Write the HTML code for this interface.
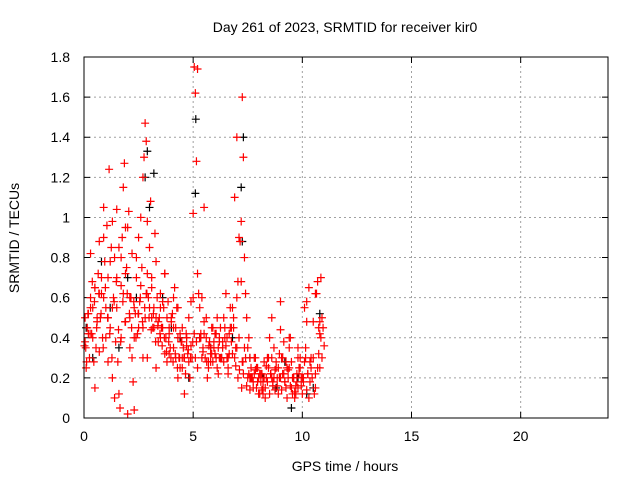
<!DOCTYPE html>
<html><head><meta charset="utf-8"><style>
body{margin:0;background:#fff}
svg text{font-family:"Liberation Sans",sans-serif;font-size:14px;fill:#000}
</style></head><body>
<svg id="chart" width="640" height="480" xmlns="http://www.w3.org/2000/svg">
<text x="345" y="32" text-anchor="middle">Day 261 of 2023, SRMTID for receiver kir0</text>
<text x="345" y="471" text-anchor="middle">GPS time / hours</text>
<text x="0" y="0" text-anchor="middle" transform="translate(19,238) rotate(-90)">SRMTID / TECUs</text>
<g id="grid"></g><g id="ticks"></g><g id="black"></g><g id="red"></g>
<rect x="84" y="57" width="524" height="361" fill="none" stroke="#000" stroke-width="1"/>
</svg>
<script>
const xTicks=[0,5,10,15,20];
const yTicks=[0,0.2,0.4,0.6,0.8,1,1.2,1.4,1.6,1.8];
const yTickLabels=["0","0.2","0.4","0.6","0.8","1","1.2","1.4","1.6","1.8"];
const redT=[0.05,0.1,0.15,0.2,0.25,0.3,0.35,0.4,0.45,0.5,0.55,0.6,0.65,0.7,0.75,0.8,0.85,0.9,0.95,1.0,1.05,1.1,1.15,1.2,1.25,1.3,1.35,1.4,1.45,1.5,1.55,1.6,1.65,1.7,1.75,1.8,1.85,1.9,1.95,2.0,2.05,2.1,2.15,2.2,2.25,2.3,2.35,2.4,2.45,2.5,2.55,2.6,2.65,2.7,2.75,2.8,2.85,2.9,2.95,3.0,3.05,3.1,3.15,3.2,3.25,3.3,3.35,3.4,3.45,3.5,3.55,3.6,3.65,3.7,3.75,3.8,3.85,3.9,3.95,4.0,4.05,4.1,4.15,4.2,4.25,4.3,4.35,4.4,4.45,4.5,4.55,4.6,4.65,4.7,4.75,4.8,4.85,4.9,4.95,5.0,5.05,5.1,5.15,5.2,5.25,5.3,5.35,5.4,5.45,5.5,5.55,5.6,5.65,5.7,5.75,5.8,5.85,5.9,5.95,6.0,6.05,6.1,6.15,6.2,6.25,6.3,6.35,6.4,6.45,6.5,6.55,6.6,6.65,6.7,6.75,6.8,6.85,6.9,6.95,7.0,7.05,7.1,7.15,7.2,7.25,7.3,7.35,7.4,7.45,7.5,7.55,7.6,7.65,7.7,7.75,7.8,7.85,7.9,7.95,8.0,8.05,8.1,8.15,8.2,8.25,8.3,8.35,8.4,8.45,8.5,8.55,8.6,8.65,8.7,8.75,8.8,8.85,8.9,8.95,9.0,9.05,9.1,9.15,9.2,9.25,9.3,9.35,9.4,9.45,9.5,9.55,9.6,9.65,9.7,9.75,9.8,9.85,9.9,9.95,10.0,10.05,10.1,10.15,10.2,10.25,10.3,10.35,10.4,10.45,10.5,10.55,10.6,10.65,10.7,10.75,10.8,10.85,10.9,10.95,11.0,
0.05,0.12,0.2,0.3,0.4,0.5,0.6,0.7,0.8,0.9,1.0,1.1,1.2,1.3,1.4,1.5,1.6,1.7,1.8,1.9,2.0,2.1,2.2,2.3,2.4,2.5,2.6,2.7,2.8,2.85,2.9,3.0,3.1,3.2,3.3,3.4,3.5,3.6,3.7,3.8,3.9,4.0,4.1,4.2,4.3,4.4,4.5,4.6,4.7,4.8,4.9,5.05,5.1,5.15,5.2,5.3,5.4,5.5,5.6,5.7,5.8,5.9,6.0,6.1,6.2,6.3,6.4,6.5,6.6,6.7,6.8,6.9,7.0,7.1,7.2,7.25,7.3,7.35,7.4,7.5,7.6,7.7,7.8,7.9,8.0,8.1,8.2,8.3,8.4,8.5,8.6,8.7,8.8,8.9,9.0,9.1,9.2,9.3,9.4,9.5,9.6,9.7,9.8,9.9,10.0,10.1,10.2,10.3,10.4,10.5,10.6,10.7,10.8,10.85,10.9,
0.08,0.3,0.5,0.7,0.9,1.1,1.3,1.5,1.7,1.9,2.1,2.3,2.5,2.7,2.9,3.1,3.3,3.5,3.7,3.9,4.1,4.3,4.5,4.7,5.0,5.2,5.5,5.8,6.2,6.6,7.0,7.22,7.28,7.6,8.2,8.6,9.0,9.4,9.8,10.2,10.6,10.75,10.8,
0.02,0.18,0.28,0.38,0.48,0.58,0.68,0.78,0.88,0.98,1.08,1.18,1.28,1.38,1.48,1.58,1.68,1.78,1.88,1.98,2.08,2.18,2.28,2.38,2.48,2.58,2.68,2.78,2.88,2.98,3.08,3.18,3.28,3.38,3.48,3.58,3.68,3.78,3.88,3.98,4.08,4.18,4.28,4.38,4.48,4.58,4.68,4.78,4.88,4.98,5.35,5.45,5.62,5.72,5.85,5.95,6.05,6.15,6.25,6.35,6.45,6.55,6.65,6.75,6.85,6.95,7.05,7.12,7.45,7.55,7.65,7.75,7.85,7.95,8.05,8.15,8.25,8.35,8.45,8.55,8.65,8.75,8.85,8.95,9.05,9.15,9.25,9.35,9.45,9.55,9.65,9.75,9.85,9.95,10.05,10.15,10.25,10.35,10.45,10.55,10.65,10.72,10.88,10.98];
const redV=[0.38,0.25,0.45,0.52,0.3,0.6,0.42,0.55,0.28,0.65,0.35,0.48,0.72,0.88,0.5,0.62,0.4,1.05,0.78,0.55,0.96,0.7,1.24,0.45,0.85,0.98,0.6,0.8,0.38,1.04,0.28,0.12,0.05,0.66,0.9,1.15,1.27,0.48,0.75,0.95,1.03,0.35,0.6,0.82,0.18,0.04,0.52,0.7,0.42,0.9,0.58,0.66,0.75,0.3,1.3,1.47,1.38,0.98,0.6,0.85,1.08,0.7,0.45,0.55,0.92,0.78,0.6,0.48,0.5,0.62,0.45,0.58,0.55,0.72,0.4,0.5,0.58,0.42,0.35,0.48,0.52,0.6,0.65,0.45,0.55,0.4,0.3,0.42,0.38,0.25,0.35,0.3,0.22,0.4,0.32,0.28,0.2,0.36,0.3,1.02,1.75,1.62,1.28,0.72,0.62,0.55,0.42,0.6,0.35,0.48,0.3,0.4,0.2,0.25,0.38,0.32,0.45,0.28,0.35,0.42,0.3,0.5,0.22,0.38,0.45,0.3,0.35,0.28,0.4,0.36,0.3,0.25,0.42,0.55,0.38,0.32,0.45,0.3,0.35,0.6,0.68,0.4,0.88,0.98,1.6,1.3,0.8,0.62,0.5,0.35,0.4,0.3,0.25,0.2,0.18,0.22,0.3,0.15,0.25,0.2,0.12,0.18,0.22,0.15,0.28,0.1,0.2,0.18,0.25,0.12,0.22,0.3,0.16,0.2,0.14,0.28,0.2,0.25,0.32,0.44,0.3,0.22,0.38,0.18,0.15,0.25,0.2,0.35,0.4,0.28,0.12,0.2,0.1,0.16,0.22,0.15,0.25,0.3,0.2,0.12,0.18,0.28,0.35,0.14,0.22,0.1,0.18,0.25,0.2,0.3,0.12,0.15,0.62,0.68,0.45,0.25,0.4,
0.3,0.45,0.36,0.5,0.28,0.42,0.55,0.4,0.65,0.5,0.33,0.7,0.6,0.4,0.5,0.78,0.2,0.1,0.55,0.85,0.4,0.62,0.72,0.02,0.5,0.3,0.55,0.8,0.45,1.0,1.2,0.5,0.62,0.72,0.55,0.65,0.45,0.5,0.38,0.55,0.45,0.32,0.28,0.45,0.5,0.35,0.3,0.2,0.25,0.45,0.12,0.36,0.5,0.58,0.42,0.3,0.38,0.25,0.4,0.3,0.42,0.5,0.28,0.35,0.45,0.32,0.25,0.4,0.3,0.5,0.62,0.3,0.45,0.55,1.1,1.4,0.9,0.68,0.28,0.22,0.35,0.3,0.2,0.14,0.2,0.3,0.25,0.12,0.22,0.18,0.15,0.3,0.4,0.2,0.35,0.25,0.12,0.2,0.3,0.18,0.1,0.25,0.15,0.2,0.12,0.3,0.25,0.2,0.55,0.48,0.65,0.3,
0.48,0.62,0.25,0.42,0.7,0.5,0.35,0.82,0.15,0.62,0.9,0.28,0.55,0.7,0.8,0.95,0.6,0.4,0.52,0.45,0.3,0.5,0.25,0.4,0.72,0.32,0.45,0.55,0.3,0.4,0.6,1.74,1.05,0.28,0.3,0.22,0.35,0.15,0.28,0.2,0.12,0.5,0.58,
0.4,0.35,0.58,0.22,0.32,0.48,0.36,0.52,0.42,0.68,0.58,0.45,0.62,0.52,0.35,0.65,0.5,0.42,0.3,0.58,0.68,0.44,0.38,0.58,0.48,0.62,0.52,0.45,0.58,0.4,0.52,0.6,0.48,0.55,0.62,0.5,0.44,0.52,0.38,0.46,0.42,0.36,0.4,0.33,0.38,0.3,0.28,0.32,0.25,0.3,0.38,0.3,0.42,0.34,0.3,0.38,0.4,0.33,0.28,0.36,0.32,0.38,0.42,0.35,0.3,0.38,0.45,0.4,0.32,0.45,0.5,0.26,0.2,0.24,0.16,0.22,0.2,0.15,0.24,0.18,0.22,0.14,0.2,0.26,0.3,0.22,0.18,0.24,0.16,0.2,0.14,0.22,0.28,0.24,0.16,0.2,0.13,0.18,0.22,0.16,0.2,0.3,0.22,0.28];
const blackT=[0.1,0.4,0.8,1.2,1.6,2.0,2.4,2.8,2.9,3.0,3.2,3.6,4.0,4.4,4.8,5.1,5.12,5.3,5.8,6.3,6.8,7.2,7.25,7.3,7.6,8.2,8.8,9.2,9.5,9.8,10.2,10.5,10.8];
const blackV=[0.45,0.3,0.78,0.55,0.35,0.7,0.6,1.2,1.33,1.05,1.22,0.6,0.45,0.4,0.2,1.12,1.49,0.4,0.35,0.3,0.4,1.15,0.88,1.4,0.3,0.2,0.15,0.28,0.05,0.2,0.12,0.15,0.52];
const NS='http://www.w3.org/2000/svg';
const X0=84,X1=608,Y0=418,Y1=57;
function xs(t){return X0+(t-0)/(24-0)*(X1-X0);}
function ys(v){return Y0-(v-0)/(1.8-0)*(Y0-Y1);}
function mk(tag,attrs,parent){const e=document.createElementNS(NS,tag);for(const k in attrs)e.setAttribute(k,attrs[k]);parent.appendChild(e);return e;}
const grid=document.getElementById('grid'),ticks=document.getElementById('ticks');
xTicks.forEach(t=>{const x=xs(t);
 if(t>0){const g=mk('line',{x1:x,x2:x,y1:Y0,y2:Y1,stroke:'#a0a0a0','stroke-dasharray':'2,3'},grid);
 
 }
 const tk=mk('path',{d:`M${x},${Y0}v-6M${x},${Y1}v6`,stroke:'#000'},ticks);
 
 
 const l=mk('text',{x:x,y:Y0+23,'text-anchor':'middle'},ticks);l.textContent=t;
 
 
});
yTicks.forEach((v,i)=>{const y=ys(v);
 if(v>0&&v<1.8){const g=mk('line',{x1:X0,x2:X1,y1:y,y2:y,stroke:'#a0a0a0','stroke-dasharray':'2,3'},grid);
 
 }
 const tk=mk('path',{d:`M${X0},${y}h6M${X1},${y}h-6`,stroke:'#000'},ticks);
 
 
 const l=mk('text',{x:X0-14,y:y+5,'text-anchor':'end'},ticks);l.textContent=yTickLabels[i];
 
 
});
function plot(T,V,color,gid,name){const g=document.getElementById(gid);
 for(let i=0;i<T.length;i++){const x=xs(T[i]),y=ys(V[i]);
  const p=mk('path',{d:`M${x-4},${y}h8M${x},${y-4}v8`,stroke:color,'stroke-width':1.2},g);
  
  }}
plot(blackT,blackV,'#000','black','black-point');
plot(redT,redV,'#ff0000','red','red-point');
</script>
</body></html>
